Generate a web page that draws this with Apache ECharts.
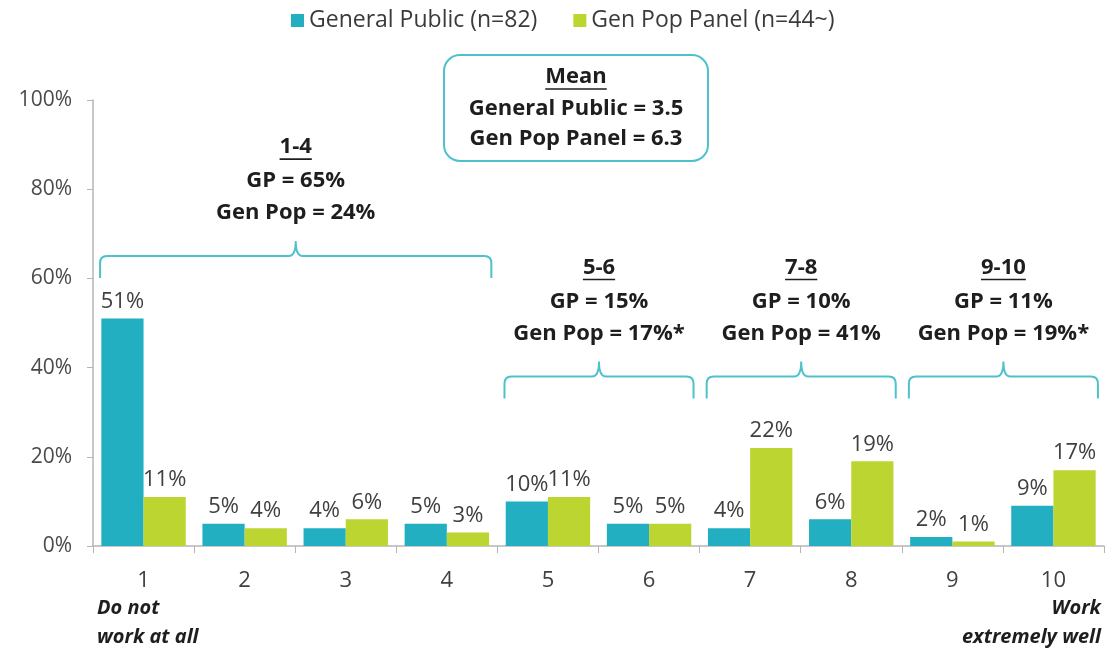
<!DOCTYPE html>
<html>
<head>
<meta charset="utf-8">
<script src="https://cdn.jsdelivr.net/npm/echarts@6/dist/echarts.min.js"></script>
<style>
  html, body { margin: 0; padding: 0; background: #fff; }
  #chart { width: 1115px; height: 651px; }
</style>
</head>
<body>
<div id="chart"></div>
<script>
// Ratings 1-10
const categories = ['1', '2', '3', '4', '5', '6', '7', '8', '9', '10'];
const generalPublic = [51, 5, 4, 5, 10, 5, 4, 6, 2, 9];
const genPopPanel = [11, 4, 6, 3, 11, 5, 22, 19, 1, 17];
const seriesNames = ['General Public (n=82)', 'Gen Pop Panel (n=44~)'];
const yTicks = [0, 20, 40, 60, 80, 100];

// Rating groups: first/last category index, heading, summary lines, brace level (%)
const groupStart = [0, 4, 6, 8];
const groupEnd = [3, 5, 7, 9];
const groupTitles = ['1-4', '5-6', '7-8', '9-10'];
const groupGP = ['GP = 65%', 'GP = 15%', 'GP = 10%', 'GP = 11%'];
const groupGenPop = ['Gen Pop = 24%', 'Gen Pop = 17%*', 'Gen Pop = 41%', 'Gen Pop = 19%*'];
const braceLevel = [65, 38, 38, 38];

const meanLines = ['Mean', 'General Public = 3.5', 'Gen Pop Panel = 6.3'];

const TEAL = '#21AFC1';
const GREEN = '#BDD531';
const BRACE = '#4FC1CC';
const INK = '#1e1e1e';
const FONT = '"Open Sans", "Noto Sans", sans-serif';

const measureCtx = document.createElement('canvas').getContext('2d');
function textWidth(str, font) {
  measureCtx.font = font;
  return measureCtx.measureText(str).width;
}

const chart = echarts.init(document.getElementById('chart'));

const braceData = groupStart.map((s, i) => [s, groupEnd[i], braceLevel[i], i]);
const noteFont = 'bold 22px ' + FONT;

function renderBrace(params, api) {
  const idx = api.value(3);
  const level = api.value(2);
  const bw = api.size([1, 0])[0];
  const a = api.coord([api.value(0), level]);
  const b = api.coord([api.value(1), level]);
  const x0 = a[0] - bw * 0.43;
  const x1 = b[0] + bw * 0.44;
  const y = a[1];
  const xm = (x0 + x1) / 2;
  const drop = 22, tip = 15, r = 7;
  const path =
    'M' + x0 + ' ' + (y + drop) +
    'L' + x0 + ' ' + (y + r) +
    'Q' + x0 + ' ' + y + ' ' + (x0 + r) + ' ' + y +
    'L' + (xm - r) + ' ' + y +
    'Q' + xm + ' ' + y + ' ' + xm + ' ' + (y - tip) +
    'Q' + xm + ' ' + y + ' ' + (xm + r) + ' ' + y +
    'L' + (x1 - r) + ' ' + y +
    'Q' + x1 + ' ' + y + ' ' + x1 + ' ' + (y + r) +
    'L' + x1 + ' ' + (y + drop);

  const tipY = y - tip;
  const lineGap = 32;
  const yLast = tipY - 28;
  const ys = [yLast - 2 * lineGap - 2, yLast - lineGap, yLast];
  const texts = [groupTitles[idx], groupGP[idx], groupGenPop[idx]];
  const children = [{
    type: 'path',
    shape: { pathData: path },
    style: { fill: 'none', stroke: BRACE, lineWidth: 2 }
  }];
  texts.forEach((t, k) => {
    children.push({
      type: 'text',
      style: {
        text: t, x: xm, y: ys[k], align: 'center', verticalAlign: 'middle',
        font: noteFont, fill: INK
      }
    });
  });
  const w = textWidth(groupTitles[idx], noteFont);
  children.push({
    type: 'line',
    shape: { x1: xm - w / 2, y1: ys[0] + 12, x2: xm + w / 2, y2: ys[0] + 12 },
    style: { stroke: INK, lineWidth: 1.6 }
  });
  return { type: 'group', children: children };
}

const valueLabel = {
  show: true,
  position: 'top',
  distance: 6,
  formatter: p => p.value + '%',
  color: '#404040',
  fontSize: 22,
  fontFamily: FONT
};

const option = {
  animation: false,
  textStyle: { fontFamily: FONT },
  legend: {
    data: seriesNames,
    top: 4,
    left: 286,
    itemWidth: 13,
    itemHeight: 13,
    itemGap: 36,
    icon: 'rect',
    textStyle: { fontSize: 23, color: '#3a3a3a', fontFamily: FONT }
  },
  grid: { left: 93, right: 11, top: 100, bottom: 105, containLabel: false },
  xAxis: {
    type: 'category',
    data: categories,
    axisLine: { lineStyle: { color: '#b5b5b5', width: 1.5 } },
    axisTick: { show: true, length: 7, lineStyle: { color: '#b5b5b5' } },
    axisLabel: { fontSize: 22, color: '#404040', margin: 24, fontFamily: FONT }
  },
  yAxis: {
    type: 'value',
    min: yTicks[0],
    max: yTicks[yTicks.length - 1],
    interval: yTicks[1] - yTicks[0],
    axisLine: { show: true, lineStyle: { color: '#b5b5b5', width: 1.5 } },
    axisTick: { show: true, length: 6, lineStyle: { color: '#b5b5b5' } },
    splitLine: { show: false },
    axisLabel: { formatter: v => v + '%', fontSize: 21, color: '#4a4a4a', margin: 21, fontFamily: FONT }
  },
  series: [
    {
      name: seriesNames[0],
      type: 'bar',
      data: generalPublic,
      itemStyle: { color: TEAL },
      barGap: '0%',
      barCategoryGap: '16.5%',
      label: valueLabel
    },
    {
      name: seriesNames[1],
      type: 'bar',
      data: genPopPanel,
      itemStyle: { color: GREEN },
      label: valueLabel
    },
    {
      name: 'groups',
      type: 'custom',
      renderItem: renderBrace,
      data: braceData,
      encode: { x: [0, 1], y: 2 },
      clip: false,
      silent: true,
      z: 5
    }
  ]
};

chart.setOption(option);

// Mean summary box and end-of-scale captions
const capFont = 'italic bold 20px ' + FONT;
const meanW = textWidth(meanLines[0], noteFont);
const firstX = chart.convertToPixel({ xAxisIndex: 0 }, categories[0]);
const lastX = chart.convertToPixel({ xAxisIndex: 0 }, categories[categories.length - 1]);
const bw = chart.convertToPixel({ xAxisIndex: 0 }, categories[1]) - firstX;

chart.setOption({
  graphic: [
    {
      type: 'group',
      left: 443,
      top: 54,
      children: [
        {
          type: 'rect',
          shape: { x: 0, y: 0, width: 264, height: 106, r: 16 },
          style: { fill: '#fff', stroke: BRACE, lineWidth: 2 }
        },
        {
          type: 'text',
          style: { text: meanLines[0], x: 132, y: 22, align: 'center', verticalAlign: 'middle', font: noteFont, fill: INK }
        },
        {
          type: 'line',
          shape: { x1: 132 - meanW / 2, y1: 34, x2: 132 + meanW / 2, y2: 34 },
          style: { stroke: INK, lineWidth: 1.6 }
        },
        {
          type: 'text',
          style: { text: meanLines[1], x: 132, y: 54, align: 'center', verticalAlign: 'middle', font: noteFont, fill: INK }
        },
        {
          type: 'text',
          style: { text: meanLines[2], x: 132, y: 84, align: 'center', verticalAlign: 'middle', font: noteFont, fill: INK }
        }
      ]
    },
    {
      type: 'text',
      x: firstX - bw * 0.46,
      y: 594,
      style: { text: 'Do not\nwork at all', font: capFont, fill: INK, lineHeight: 29, align: 'left' }
    },
    {
      type: 'text',
      x: lastX + bw * 0.47,
      y: 594,
      style: { text: 'Work\nextremely well', font: capFont, fill: INK, lineHeight: 29, align: 'right' }
    }
  ]
});
</script>
</body>
</html>
